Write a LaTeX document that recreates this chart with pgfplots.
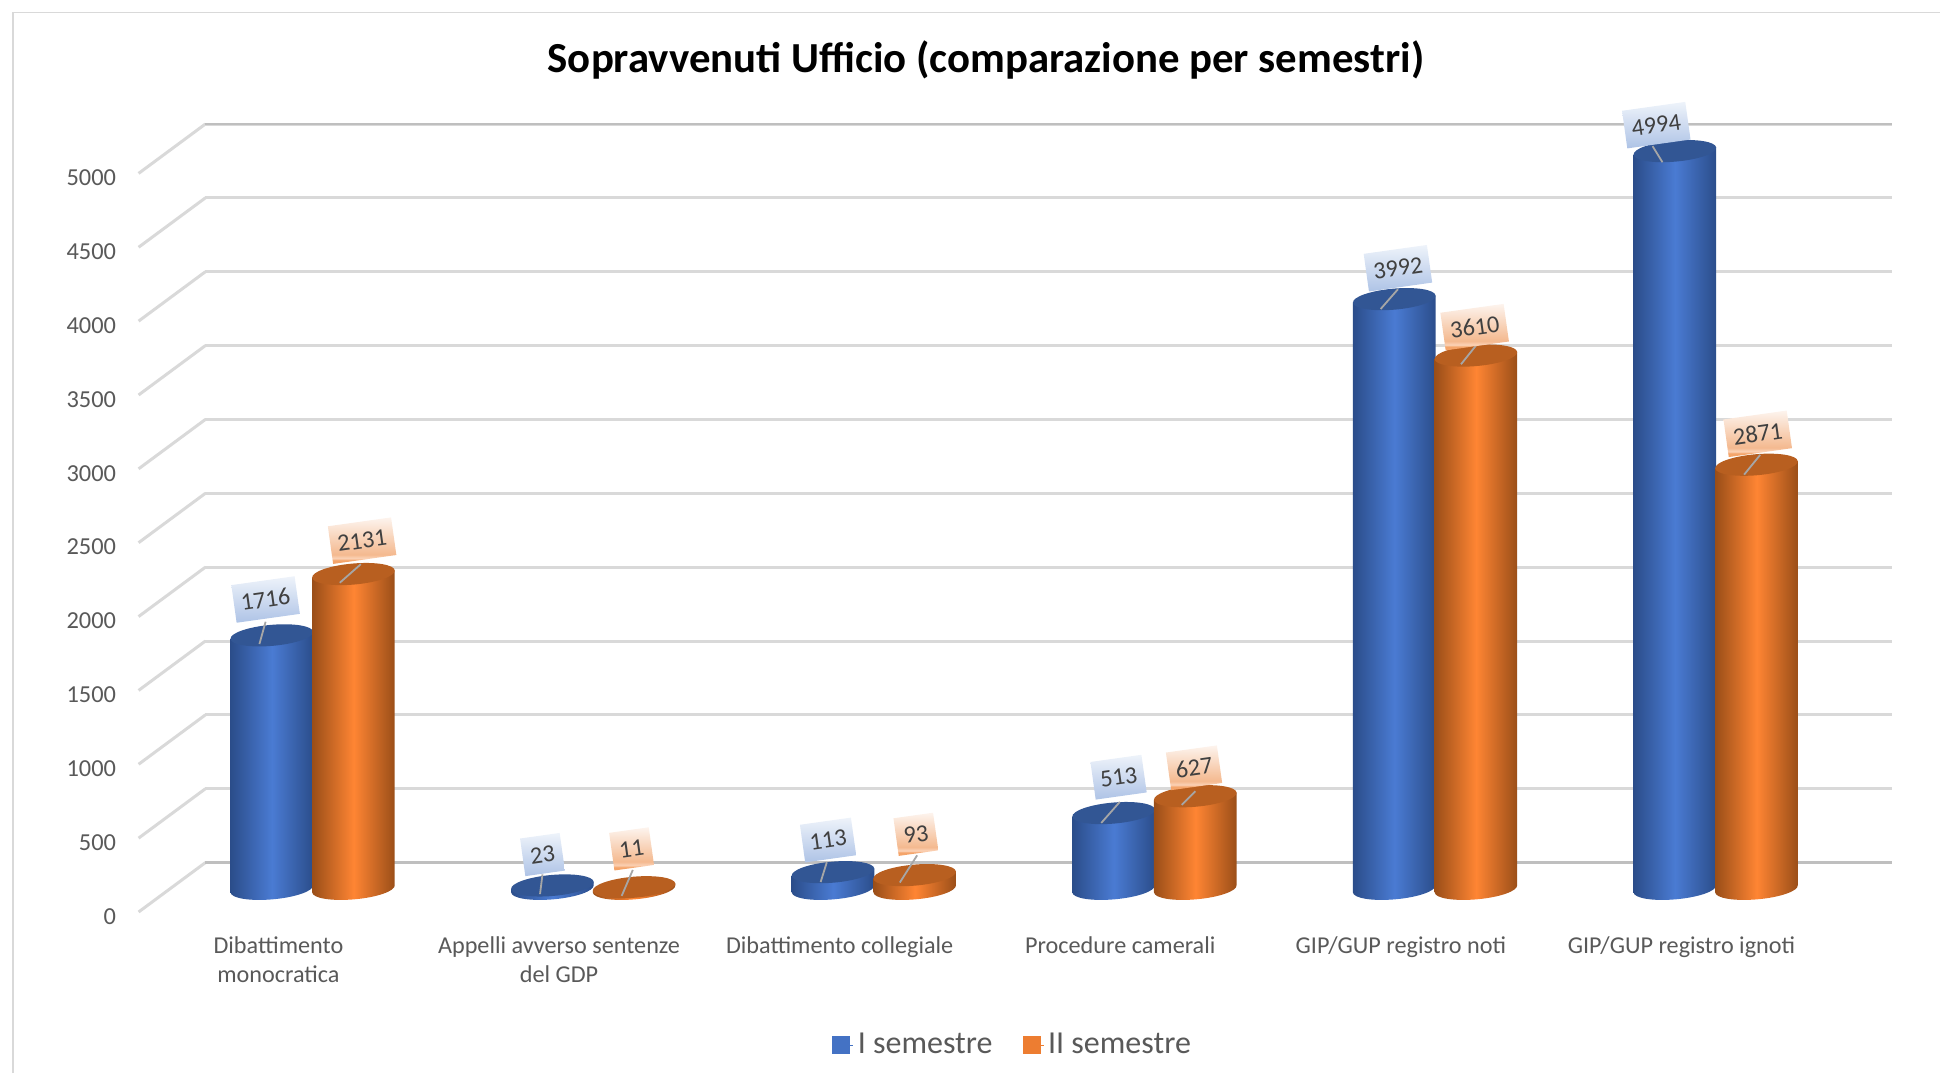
\documentclass[border=0pt]{standalone}
\usepackage{pgfplots}
\pgfplotsset{compat=1.18}
\usepackage{fontspec}
\setmainfont{Carlito}
\definecolor{bDark}{HTML}{2B4D8A}
\definecolor{bMid}{HTML}{4A7BD3}
\definecolor{bTop}{HTML}{325694}
\definecolor{oDark}{HTML}{9A4E18}
\definecolor{oMid}{HTML}{FF8533}
\definecolor{oTop}{HTML}{B85F20}
\definecolor{gridc}{HTML}{D9D9D9}
\definecolor{gridd}{HTML}{BFBFBF}
\definecolor{txt}{HTML}{595959}
\definecolor{lab}{HTML}{404040}
\definecolor{legb}{HTML}{4472C4}
\definecolor{lego}{HTML}{ED7D31}
\definecolor{lbT}{HTML}{EEF3FA}
\definecolor{lbB}{HTML}{AEC3E6}
\definecolor{loT}{HTML}{FDF4EE}
\definecolor{loB}{HTML}{F4A46A}
\definecolor{loS}{HTML}{FBD3B8}
\definecolor{loM}{HTML}{F4B98F}
\pgfdeclareverticalshading{labO}{100bp}{color(0bp)=(loB); color(25bp)=(loB); color(29bp)=(loB); color(31bp)=(loS); color(35bp)=(loM); color(75bp)=(loT); color(100bp)=(loT)}
\def\pxu{0.6186}
% one whole cylinder, drawn downwards from the data point
\newcommand\cylinder[3]{%
  \pgfmathsetmacro\H{\val*0.1194}%
  \path[draw=none,x=\pxu pt,y=\pxu pt,left color=#1,right color=#1,middle color=#2]
    (-33.37,-2.92) -- (-33.37,-\H-2.92)
    .. controls (-32.96,-\H-7.59) and (-17.69,-\H-10.08) .. (0.74,-\H-8.47)
    .. controls (19.17,-\H-6.86) and (33.78,-\H-1.75) .. (33.37,-\H+2.92)
    -- (33.37,2.92) -- cycle;
  \path[draw=none,fill=#3,x=\pxu pt,y=\pxu pt]
    (-33.37,-2.92)
    .. controls (-32.96,-7.59) and (-17.69,-10.08) .. (0.74,-8.47)
    .. controls (19.17,-6.86) and (33.78,-1.75) .. (33.37,2.92)
    .. controls (32.96,7.59) and (17.69,10.08) .. (-0.74,8.47)
    .. controls (-19.17,6.86) and (-33.78,1.75) .. (-33.37,-2.92) -- cycle;
  \draw[x=\pxu pt,y=\pxu pt,line width=0.9pt,color=black!35] (\ax,\ay) -- (\bx,\by);
}
\pgfdeclareplotmark{cylB}{\cylinder{bDark}{bMid}{bTop}}
\pgfdeclareplotmark{cylO}{\cylinder{oDark}{oMid}{oTop}}
\pgfplotsset{
  cyl/.style={
    scatter, only marks, point meta=y,
    scatter/@pre marker code/.code={},
    scatter/@post marker code/.code={},
    nodes near coords={\pgfmathprintnumber[fixed,precision=0,1000 sep={},assume math mode=true]{\pgfplotspointmeta}},
    nodes near coords style={anchor=center, rotate=8,
      xshift=(\lx*0.99+\ly*0.139)*\pxu pt, yshift=(\ly*0.99-\lx*0.139)*\pxu pt,
      font=\fontsize{12.2}{14}\selectfont, text=lab,
      inner xsep=3.6pt, inner ysep=0pt, minimum height=19pt, minimum width=20pt},
  },
}
\begin{document}
\begin{tikzpicture}[x=1pt,y=1pt]
\path[use as bounding box] (0,0) rectangle (970,536.5);
\draw[gridc,line width=0.8pt] (6.6,0) -- (6.6,530.2) -- (970,530.2);
\node[font=\fontsize{21.4}{25}\selectfont\bfseries,text=black] at (493,506.6)
  {Sopravvenuti Ufficio (comparazione per semestri)};
% back wall
\begin{axis}[
  name=wall, anchor=south west, at={(102.7pt,105.2pt)},
  scale only axis, width=843.2pt, height=369.3pt,
  xmin=0, xmax=1, ymin=0, ymax=5000, clip=false,
  axis line style={draw=none}, xtick=\empty,
  ytick={0,500,...,5000}, major tick length=0pt,
  ymajorgrids, grid style={gridc,line width=1.5pt},
  /pgf/number format/assume math mode=true,
  /pgf/number format/1000 sep={},
  yticklabel style={font=\fontsize{12.2}{14}\selectfont,text=txt,inner sep=0pt,
    xshift=-44.5pt,yshift=-26.9pt},
]
\pgfplotsinvokeforeach{0,500,...,5000}{
  \draw[gridc,line width=1.5pt] (axis cs:0,#1) -- ++(-33.4pt,-24.7pt);
}
\draw[gridd,line width=1.2pt] (axis cs:0,5000) -- (axis cs:1,5000);
\draw[gridd,line width=1.2pt] (axis cs:0,0) -- (axis cs:1,0);
\end{axis}
% cylinders
\begin{axis}[
  name=bars, anchor=south west, at={(69.7pt,78.9pt)},
  scale only axis, width=876.6pt, height=402.1pt,
  xmin=-0.6173, xmax=5.6305, ymin=-178.4, ymax=5265.5, clip=false,
  axis line style={draw=none}, major tick length=0pt, ytick=\empty,
  xtick={0,...,5},
  xticklabels={{Dibattimento\\monocratica},{Appelli avverso sentenze\\del GDP},
    {Dibattimento collegiale},{Procedure camerali},{GIP/GUP registro noti},{GIP/GUP registro ignoti}},
  xticklabel style={font=\fontsize{12.1}{14.8}\selectfont,text=txt,align=center,
    anchor=north,xshift=-17.1pt,yshift=-7pt},
  legend columns=2,
  legend style={draw=none,fill=none,at={(0.4986,-0.1614)},anchor=center,
    font=\fontsize{16}{18}\selectfont,text=txt,
    /tikz/every even column/.append style={column sep=13pt}},
  legend image code/.code={\fill[#1] (0pt,-4.3pt) rectangle (8.6pt,4.4pt);\path (0pt,0pt) -- (10.4pt,0pt);},
]
\addplot[cyl, mark=cylB, forget plot,
    every node near coord/.append style={top color=lbT,bottom color=lbB},
    visualization depends on={value \thisrow{lx}\as\lx},
    visualization depends on={value \thisrow{ly}\as\ly},
    visualization depends on={value \thisrow{ax}\as\ax},
    visualization depends on={value \thisrow{ay}\as\ay},
    visualization depends on={value \thisrow{bx}\as\bx},
    visualization depends on={value \thisrow{by}\as\by},
    visualization depends on={value \thisrow{v}\as\val},
  ] table[x=x,y=v] {
x v lx ly ax ay bx by
-0.1455 1716 -5 29 -5 11 -10 -7
0.8545 23 -8 25 -8 9 -10 -7
1.8545 113 -4 26 -5 8 -10 -8
2.8545 513 4 29 5 9 -10 -8
3.8545 3992 3 25 3 8 -11 -8
4.8545 4994 -15 21 -18 4 -10 -9
};
\addplot[cyl, mark=cylO, forget plot,
    every node near coord/.append style={shade,shading=labO},
    visualization depends on={value \thisrow{lx}\as\lx},
    visualization depends on={value \thisrow{ly}\as\ly},
    visualization depends on={value \thisrow{ax}\as\ax},
    visualization depends on={value \thisrow{ay}\as\ay},
    visualization depends on={value \thisrow{bx}\as\bx},
    visualization depends on={value \thisrow{by}\as\by},
    visualization depends on={value \thisrow{v}\as\val},
  ] table[x=x,y=v] {
x v lx ly ax ay bx by
0.1455 2131 7 27 6 8 -11 -7
1.1455 11 -2 31 -1 14 -10 -7
2.1455 93 1 33 2 16 -12 -6
3.1455 627 -1 23 0 4 -11 -7
4.1455 3610 -1 23 0 8 -12 -7
5.1455 2871 1 25 3 8 -10 -8
};
\addlegendimage{legb}\addlegendentry{I semestre}
\addlegendimage{lego}\addlegendentry{II semestre}
\end{axis}
\end{tikzpicture}
\end{document}
